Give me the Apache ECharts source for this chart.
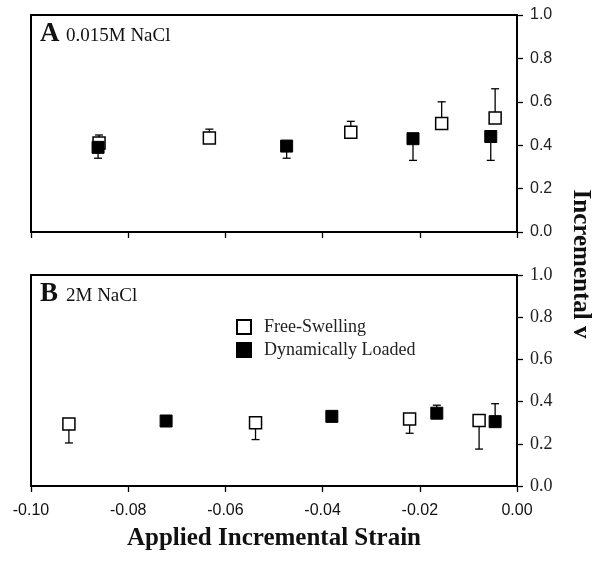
<!DOCTYPE html>
<html><head><meta charset="utf-8">
<script src="https://cdn.jsdelivr.net/npm/echarts@6/dist/echarts.min.js"></script>
<style>html,body{margin:0;padding:0;background:#fff}#c{width:601px;height:561px}</style>
</head><body><div id="c"></div>
<script>
// Panel A: 0.015M NaCl
var strainA_free = [-0.0860, -0.0633, -0.0342, -0.0155, -0.0045];
var nuA_free     = [0.41, 0.433, 0.46, 0.50, 0.525];
var errA_free    = [0.447, 0.474, 0.51, 0.60, 0.66];
var strainA_load = [-0.0862, -0.0474, -0.0214, -0.0054];
var nuA_load     = [0.39, 0.396, 0.43, 0.44];
var errA_load    = [0.34, 0.34, 0.33, 0.33];
// Panel B: 2M NaCl
var strainB_free = [-0.0922, -0.0538, -0.0221, -0.0078];
var nuB_free     = [0.294, 0.30, 0.317, 0.31];
var errB_free    = [0.204, 0.22, 0.25, 0.175];
var strainB_load = [-0.0722, -0.0381, -0.0165, -0.0045];
var nuB_load     = [0.308, 0.33, 0.345, 0.305];
var errB_load    = [null, 0.34, 0.383, 0.39];
var xTicks = [-0.10, -0.08, -0.06, -0.04, -0.02, 0.00];
var yTicks = [0.0, 0.2, 0.4, 0.6, 0.8, 1.0];

function pts(xs, ys){ return xs.map(function(x,i){ return [x, ys[i]]; }); }
function errPts(xs, ys, es){ var out=[]; xs.forEach(function(x,i){ if(es[i]!=null) out.push([x, ys[i], es[i]]); }); return out; }

function errRender(params, api){
  var p0 = api.coord([api.value(0), api.value(1)]);
  var p1 = api.coord([api.value(0), api.value(2)]);
  var w = 4;
  return {type:'group', children:[
    {type:'line', shape:{x1:p0[0],y1:p0[1],x2:p1[0],y2:p1[1]}, style:{stroke:'#000',lineWidth:1.3}},
    {type:'line', shape:{x1:p1[0]-w,y1:p1[1],x2:p1[0]+w,y2:p1[1]}, style:{stroke:'#000',lineWidth:1.3}}
  ]};
}

var serif = '"Liberation Serif","Times New Roman",serif';
var sans = '"Liberation Sans",Arial,sans-serif';

function xAxis(idx, showLabels){
  return {
    type:'value', gridIndex:idx, min:-0.10, max:0, interval:0.02,
    axisLine:{show:true, onZero:false, lineStyle:{color:'#000', width:2}},
    axisTick:{show:true, inside:false, length:6, lineStyle:{color:'#000', width:1.3}},
    axisLabel:{show:showLabels, color:'#111', fontFamily:sans, fontSize:16, margin:17,
      formatter:function(v){ return v.toFixed(2); }},
    splitLine:{show:false},
    name: showLabels ? 'Applied Incremental Strain' : '',
    nameLocation:'middle', nameGap:40,
    nameTextStyle:{fontFamily:serif, fontWeight:'bold', fontSize:25, color:'#111'}
  };
}
function yAxis(idx, font, size){
  return {
    type:'value', gridIndex:idx, min:0, max:1, interval:0.2, position:'right',
    axisLine:{show:true, onZero:false, lineStyle:{color:'#000', width:2}},
    axisTick:{show:true, inside:false, length:6, lineStyle:{color:'#000', width:1.3}},
    axisLabel:{color:'#222', fontFamily:font, fontSize:size, margin:13,
      formatter:function(v){ return v.toFixed(1); }},
    splitLine:{show:false}
  };
}

var openStyle = {color:'#fff', borderColor:'#000', borderWidth:1.5, opacity:1};
var fillStyle = {color:'#000', borderColor:'#000', borderWidth:1, opacity:1};

var option = {
  animation:false,
  grid:[
    {left:31, top:15, width:486, height:217, show:true, borderColor:'#000', borderWidth:2, backgroundColor:'transparent'},
    {left:31, top:275, width:486, height:211, show:true, borderColor:'#000', borderWidth:2, backgroundColor:'transparent'}
  ],
  xAxis:[xAxis(0,false), xAxis(1,true)],
  yAxis:[yAxis(0,sans,16), yAxis(1,serif,18)],
  legend:{
    orient:'vertical', left:231, top:313, itemGap:5, itemWidth:14, itemHeight:14,
    data:['Free-Swelling','Dynamically Loaded'],
    textStyle:{fontFamily:serif, fontSize:18, color:'#222', padding:[0,0,0,8]},
    selectedMode:false
  },
  graphic:[
    {type:'text', left:40, top:21, style:{text:'A', font:'bold 27px '+serif, fill:'#111'}},
    {type:'text', left:66, top:27, style:{text:'0.015M NaCl', font:'19px '+serif, fill:'#111'}},
    {type:'text', left:40, top:281, style:{text:'B', font:'bold 27px '+serif, fill:'#111'}},
    {type:'text', left:66, top:287, style:{text:'2M NaCl', font:'19px '+serif, fill:'#111'}},
    {type:'text', x:580, y:264, rotation:-Math.PI/2,
      style:{text:'Incremental v', font:'bold 25px '+serif, fill:'#111', align:'center', verticalAlign:'middle'}}
  ],
  series:[
    {type:'custom', xAxisIndex:0, yAxisIndex:0, renderItem:errRender, data:errPts(strainA_free, nuA_free, errA_free), z:1},
    {type:'custom', xAxisIndex:0, yAxisIndex:0, renderItem:errRender, data:errPts(strainA_load, nuA_load, errA_load), z:1},
    {type:'custom', xAxisIndex:1, yAxisIndex:1, renderItem:errRender, data:errPts(strainB_free, nuB_free, errB_free), z:1},
    {type:'custom', xAxisIndex:1, yAxisIndex:1, renderItem:errRender, data:errPts(strainB_load, nuB_load, errB_load), z:1},
    {name:'Free-Swelling', type:'scatter', xAxisIndex:0, yAxisIndex:0, symbol:'rect', symbolSize:12, itemStyle:openStyle, data:pts(strainA_free, nuA_free), z:3},
    {name:'Dynamically Loaded', type:'scatter', xAxisIndex:0, yAxisIndex:0, symbol:'rect', symbolSize:12, itemStyle:fillStyle, data:pts(strainA_load, nuA_load), z:4},
    {name:'Free-Swelling', type:'scatter', xAxisIndex:1, yAxisIndex:1, symbol:'rect', symbolSize:12, itemStyle:openStyle, data:pts(strainB_free, nuB_free), z:3},
    {name:'Dynamically Loaded', type:'scatter', xAxisIndex:1, yAxisIndex:1, symbol:'rect', symbolSize:12, itemStyle:fillStyle, data:pts(strainB_load, nuB_load), z:4}
  ]
};
var chart = echarts.init(document.getElementById('c'), null, {renderer:'canvas'});
chart.setOption(option);
</script></body></html>
